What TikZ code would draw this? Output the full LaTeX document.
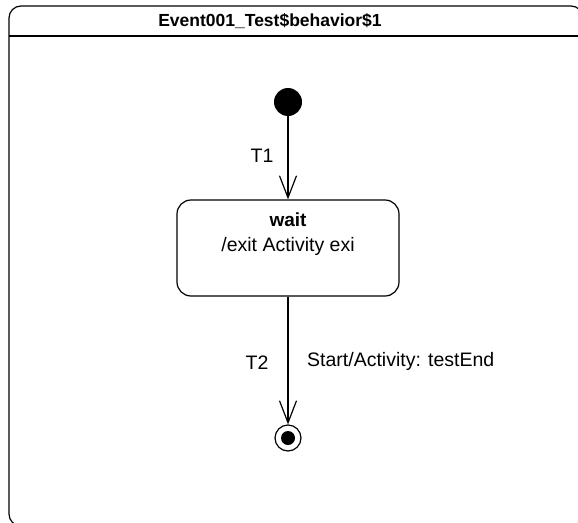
\documentclass[tikz,border=0pt]{standalone}
\usepackage{fontspec}
\setmainfont{Liberation Sans}
\usetikzlibrary{arrows.meta, positioning}

\begin{document}
\begin{tikzpicture}[
    x=1pt, y=-1pt,
    frame/.style={draw=black, line width=1.2pt, rounded corners=12pt},
    state/.style={
        rectangle, draw=black, line width=1.2pt,
        minimum width=222pt, minimum height=96pt,
        rounded corners=14pt, inner sep=0pt,
    },
    initial/.style={circle, fill=black, minimum size=28pt, inner sep=0pt},
    final/.style={circle, draw=black, line width=1.2pt, minimum size=26pt, inner sep=0pt,
        path picture={\fill[black] (path picture bounding box.center) circle (7pt);}},
    txt/.style={font=\fontsize{19.5}{23}\selectfont, inner sep=0pt},
    title/.style={inner sep=0pt, font=\fontsize{17.5}{21}\selectfont\bfseries},
    arrow/.style={-{Straight Barb[length=22pt, width=17pt]}, line width=1.2pt},
]

% CANVAS
\useasboundingbox (0,0) rectangle (578,522);
\clip (0,0) rectangle (578,522);

% FRAME
\draw[frame] (9,6) rectangle (583,526);
\draw[line width=1.2pt] (9,36) -- (583,36);
\node[title] (frametitle) at (270,21) {Event001\_Test\$behavior\$1};

% STATES
\node[initial] (init) at (288,102) {};
\node[state] (wait) at (288,248) {};
\node[txt, font=\fontsize{19}{23}\selectfont\bfseries] (waitname) at (288,220) {wait};
\node[txt] (waitexit) at (288,246) {/exit Activity exi};
\node[final] (final) at (288,438) {};

% TRANSITIONS
\draw[arrow] (init) -- (wait);
\node[txt] (t1) at (262,156) {T1};

\draw[arrow] (wait) -- (final);
\node[txt] (t2) at (257,363) {T2};
\node[txt, anchor=west] (t2label) at (307,361) {Start/Activity: testEnd};

\end{tikzpicture}
\end{document}
